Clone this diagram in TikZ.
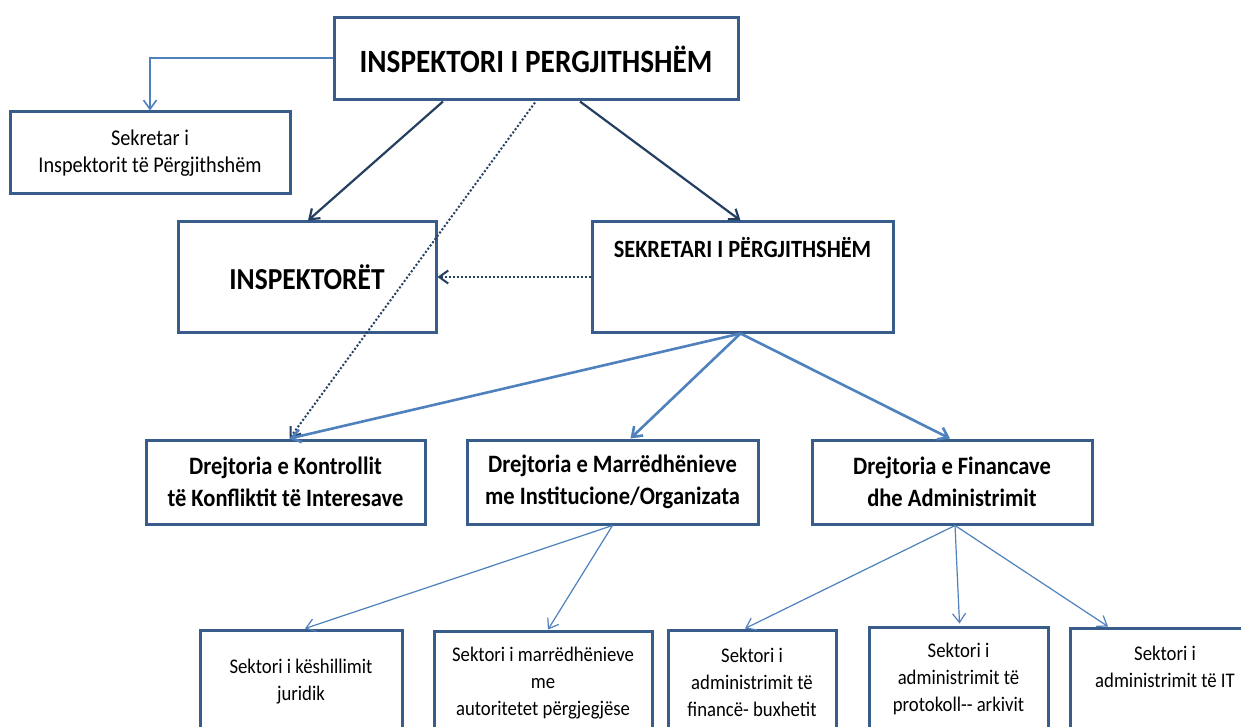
\documentclass[tikz,border=0pt]{standalone}
\usepackage{fontspec}
\setmainfont{Carlito}[FakeStretch=0.9]
\usetikzlibrary{calc}
\usetikzlibrary{positioning}
\usetikzlibrary{arrows.meta}
\definecolor{boxline}{HTML}{385D8A}
\definecolor{linkblue}{HTML}{4F81BD}
\definecolor{linkdark}{HTML}{243F60}

\begin{document}
\begin{tikzpicture}[x=1pt, y=-1pt, >={Straight Barb[length=9pt, width=13pt]}, font=\bfseries]
    \tikzstyle{box}=[draw=boxline, line width=3pt, rectangle, fill=white, align=center, inner sep=0pt]
    \tikzstyle{chief}=[->, draw=linkdark, line width=2.2pt]
    \tikzstyle{coord}=[->, draw=linkdark, line width=2pt, dotted]
    \tikzstyle{dept}=[->, draw=linkblue, line width=2.6pt]
    \tikzstyle{sect}=[->, draw=linkblue, line width=1.2pt]

    \useasboundingbox (0,0) rectangle (1241,727);
    \clip (0,0) rectangle (1241,727);
    \fill[white] (0,0) rectangle (1241,727);

    \node[box, minimum width=404pt, minimum height=82pt, font=\bfseries\fontsize{32.5}{36}\selectfont] (IP) at (536,59) {INSPEKTORI I PERGJITHSHËM};
    \node[box, minimum width=280pt, minimum height=82pt, font=\fontsize{22.5}{27}\selectfont] (SIP) at (150,153) {Sekretar i\\Inspektorit të Përgjithshëm};

    %%%%
    \node[box, minimum width=258pt, minimum height=110pt, font=\bfseries\fontsize{30.5}{34}\selectfont] (INS) at (307,277) {INSPEKTORËT};
    \node[box, minimum width=301pt, minimum height=110pt, text depth=60pt, font=\bfseries\fontsize{24.8}{28}\selectfont] (SP) at (742.5,277) {SEKRETARI I PËRGJITHSHËM};

    %%%%
    \tikzstyle{directorate}=[box, minimum height=84pt, font=\bfseries\fontsize{25}{32}\selectfont]
    \node[directorate, minimum width=279pt] (DK) at (285.5,482) {Drejtoria e Kontrollit\\të Konfliktit të Interesave};
    \node[directorate, minimum width=291pt] (DM) at (612.5,482) {Drejtoria e Marrëdhënieve\\me Institucione/Organizata};
    \node[directorate, minimum width=280pt] (DF) at (952,482) {Drejtoria e Financave\\dhe Administrimit};

    %%%%
    \tikzstyle{sector}=[box, minimum height=104pt, font=\fontsize{20.8}{27}\selectfont]
    \node[sector, minimum width=202pt] (SJ) at (301,682) {Sektori i këshillimit\\juridik};
    \node[sector, minimum width=218pt] (SA) at (543,683) {Sektori i marrëdhënieve\\me\\autoritetet përgjegjëse};
    \node[sector, minimum width=168pt] (SB) at (752,682) {Sektori i\\administrimit të\\financë- buxhetit};
    \node[sector, minimum width=179pt] (SR) at (958.5,679) {Sektori i\\administrimit të\\protokoll-{}- arkivit};
    \node[sector, minimum width=190pt] (SI) at (1165,680) {Sektori i\\administrimit të IT\\\mbox{}};

    %%%%
    \draw[->, draw=linkblue, line width=1.6pt] ($(IP.west)+(0,-1)$) -| (SIP.north);
    \draw[chief] ($(IP.south)+(-93,0)$) -- ($(INS.north)+(1,0)$);
    \draw[chief] ($(IP.south)+(44,0)$) -- ($(SP.north)+(-2,0)$);
    \draw[coord] ($(IP.south)+(-1,1)$) -- ($(DK.north)+(4,0)$);
    \draw[coord] (SP.west) -- (INS.east);

    \draw[dept] ($(SP.south)+(-2,0)$) -- ($(DK.north)+(4,0)$);
    \draw[dept] ($(SP.south)+(-2,0)$) -- ($(DM.north)+(18,0)$);
    \draw[dept] ($(SP.south)+(-2,0)$) -- ($(DF.north)+(-2,0)$);

    \draw[sect] (DM.south) -- ($(SJ.north)+(4,0)$);
    \draw[sect] (DM.south) -- ($(SA.north)+(5,0)$);
    \draw[sect] ($(DF.south)+(3,0)$) -- ($(SB.north)+(-7,0)$);
    \draw[sect] ($(DF.south)+(3,0)$) -- ($(SR.north)+(1,-2)$);
    \draw[sect] ($(DF.south)+(3,0)$) -- ($(SI.north)+(-57,0)$);
\end{tikzpicture}
\end{document}
